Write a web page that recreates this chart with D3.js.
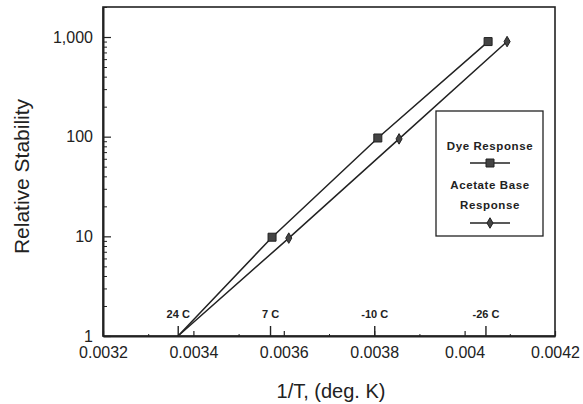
<!DOCTYPE html>
<html>
<head>
<meta charset="utf-8">
<script src="https://cdn.jsdelivr.net/npm/d3@7"></script>
<style>
  body { margin: 0; background: #fff; }
  svg { display: block; font-family: Arial, "Liberation Sans", sans-serif; }
</style>
</head>
<body>
<div class="chart"></div>
<script>
// values
const dyeX = [0.003366, 0.003574, 0.003808, 0.004052]
const dyeY = [1, 9.8, 97, 900]
const acetateX = [0.003366, 0.003611, 0.003855, 0.004094]
const acetateY = [1, 9.6, 95, 900]

const xTicks = [0.0032, 0.0034, 0.0036, 0.0038, 0.004, 0.0042]
const xTickLabels = ["0.0032", "0.0034", "0.0036", "0.0038", "0.004", "0.0042"]
const xMinorTicks = [0.0033, 0.0035, 0.0037, 0.0039, 0.0041]
const yTicks = [1, 10, 100, 1000]
const yTickLabels = ["1", "10", "100", "1,000"]
const tempC = [24, 7, -10, -26]
const tempLabels = ["24 C", "7 C", "-10 C", "-26 C"]
const legendNames = ["Dye Response", "Acetate Base|Response"]

const width = 583
const height = 404
const margin = { top: 7, right: 28, bottom: 68, left: 103 }
const ink = "#222"

const svg = d3.select(".chart").append("svg")
    .attr("width", width)
    .attr("height", height)

const x = d3.scaleLinear()
    .domain([0.0032, 0.0042])
    .range([margin.left, width - margin.right])
const y = d3.scaleLog()
    .domain([1, 2000])
    .range([height - margin.bottom, margin.top])

// frame
svg.append("rect")
    .attr("x", margin.left)
    .attr("y", margin.top)
    .attr("width", x.range()[1] - margin.left)
    .attr("height", y.range()[0] - margin.top)
    .attr("fill", "none")
    .attr("stroke", ink)
    .attr("stroke-width", 1.6)

// x axis
const xAxis = svg.append("g")
    .attr("transform", `translate(0,${y(1)})`)
    .call(d3.axisBottom(x).tickValues(xTicks)
        .tickFormat((d, i) => xTickLabels[i])
        .tickSizeInner(-5).tickSizeOuter(0).tickPadding(11))
xAxis.select(".domain").attr("stroke", ink).attr("stroke-width", 2)
xAxis.selectAll(".tick line").attr("stroke", ink).attr("stroke-width", 1.2)
xAxis.selectAll("text").attr("font-size", 16).attr("fill", ink)

svg.append("g")
    .attr("transform", `translate(0,${y(1)})`)
    .call(d3.axisBottom(x).tickValues(xMinorTicks).tickFormat("")
        .tickSizeInner(-2).tickSizeOuter(0))
    .call(g => g.select(".domain").remove())
    .selectAll(".tick line").attr("stroke", ink)

// temperature marks
const tempX = tempC.map(c => 1 / (c + 273.15))
const tempAxis = svg.append("g")
    .attr("transform", `translate(0,${y(1)})`)
    .call(d3.axisTop(x).tickValues(tempX)
        .tickFormat((d, i) => tempLabels[i])
        .tickSizeInner(10).tickSizeOuter(0))
tempAxis.select(".domain").remove()
tempAxis.selectAll(".tick line").attr("stroke", ink).attr("stroke-width", 1.4)
tempAxis.selectAll("text")
    .attr("y", -18)
    .attr("dy", 0)
    .attr("font-size", 11)
    .attr("font-weight", "bold")
    .attr("fill", ink)

// y axis
const minorY = []
for (let p = 0; p < 4; p++) for (let k = 2; k <= 9; k++) {
    const v = k * Math.pow(10, p)
    if (v <= 2000) minorY.push(v)
}
const yAxis = svg.append("g")
    .attr("transform", `translate(${margin.left},0)`)
    .call(d3.axisLeft(y).tickValues(yTicks)
        .tickFormat((d, i) => yTickLabels[i])
        .tickSizeInner(-8).tickSizeOuter(0).tickPadding(10))
yAxis.select(".domain").attr("stroke", ink).attr("stroke-width", 2)
yAxis.selectAll(".tick line").attr("stroke", ink).attr("stroke-width", 1.2)
yAxis.selectAll("text").attr("font-size", 16).attr("fill", ink)

svg.append("g")
    .attr("transform", `translate(${margin.left},0)`)
    .call(d3.axisLeft(y).tickValues(minorY).tickFormat("")
        .tickSizeInner(-4).tickSizeOuter(0))
    .call(g => g.select(".domain").remove())
    .selectAll(".tick line").attr("stroke", ink)

// axis titles
svg.append("text")
    .attr("transform", `translate(29,${(margin.top + y(1)) / 2 + 5}) rotate(-90)`)
    .attr("text-anchor", "middle")
    .attr("font-size", 21)
    .attr("fill", ink)
    .text("Relative Stability")

svg.append("text")
    .attr("x", 331)
    .attr("y", 398)
    .attr("text-anchor", "middle")
    .attr("font-size", 20)
    .attr("fill", ink)
    .text("1/T, (deg. K)")

// series
const line = d3.line().x(d => x(d[0])).y(d => y(d[1]))
const dye = dyeX.map((v, i) => [v, dyeY[i]])
const acetate = acetateX.map((v, i) => [v, acetateY[i]])

svg.append("path").datum(dye)
    .attr("d", line).attr("fill", "none")
    .attr("stroke", ink).attr("stroke-width", 1.5)
svg.append("path").datum(acetate)
    .attr("d", line).attr("fill", "none")
    .attr("stroke", ink).attr("stroke-width", 1.5)

const square = d3.symbol().type(d3.symbolSquare).size(64)
const diamond = d3.symbol().type(d3.symbolDiamond).size(32)

svg.selectAll(".dye-pt")
    .data(dye.slice(1))
    .enter().append("path")
    .attr("class", "dye-pt")
    .attr("d", square)
    .attr("transform", d => `translate(${x(d[0])},${y(d[1])})`)
    .attr("fill", "#444").attr("stroke", ink)

svg.selectAll(".ac-pt")
    .data(acetate.slice(1))
    .enter().append("path")
    .attr("class", "ac-pt")
    .attr("d", diamond)
    .attr("transform", d => `translate(${x(d[0])},${y(d[1])})`)
    .attr("fill", "#444").attr("stroke", ink)

// legend
const lg = svg.append("g")
lg.append("rect")
    .attr("x", 436).attr("y", 111)
    .attr("width", 107).attr("height", 125)
    .attr("fill", "#fff").attr("stroke", ink).attr("stroke-width", 1.3)

const legendRows = [
    { lines: legendNames[0].split("|"), textY: 150, markY: 163, mark: square },
    { lines: legendNames[1].split("|"), textY: 189, markY: 223, mark: diamond }
]
legendRows.forEach(r => {
    r.lines.forEach((t, j) => {
        lg.append("text")
            .attr("x", 490).attr("y", r.textY + j * 20)
            .attr("text-anchor", "middle")
            .attr("font-size", 11.5)
            .attr("font-weight", "bold")
            .attr("letter-spacing", 0.6)
            .attr("fill", ink)
            .text(t)
    })
    lg.append("line")
        .attr("x1", 470).attr("x2", 510)
        .attr("y1", r.markY).attr("y2", r.markY)
        .attr("stroke", ink).attr("stroke-width", 1.3)
    lg.append("path")
        .attr("d", r.mark)
        .attr("transform", `translate(490,${r.markY})`)
        .attr("fill", "#444").attr("stroke", ink)
})
</script>
</body>
</html>
